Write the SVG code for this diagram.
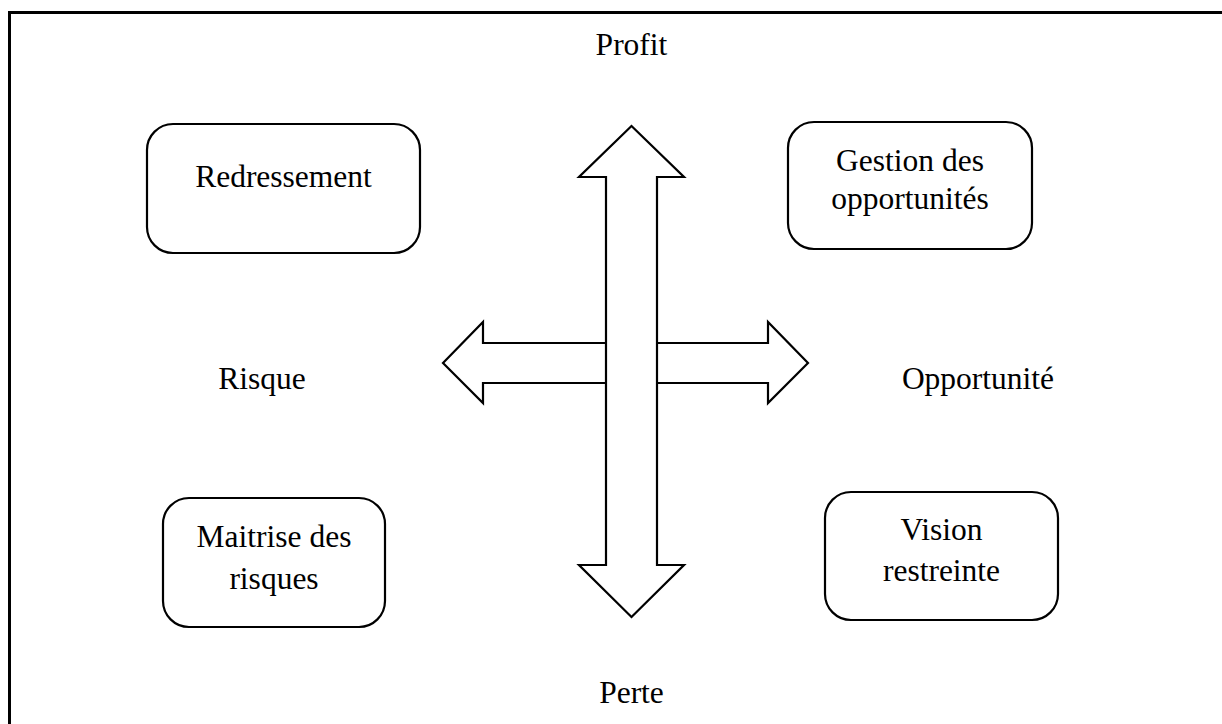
<svg xmlns="http://www.w3.org/2000/svg" width="1222" height="724" viewBox="0 0 1222 724">
<style>
.t{font-family:"Liberation Serif","Times New Roman",serif;font-size:31.5px;fill:#000;text-anchor:middle}
.box{fill:#fff;stroke:#000;stroke-width:2.2}
.arr{fill:#fff;stroke:#000;stroke-width:2.2;stroke-linejoin:miter}
</style>
<rect x="0" y="0" width="1222" height="724" fill="#fff"/>
<path d="M9.5 730 V12.5 H1230" fill="none" stroke="#000" stroke-width="3"/>
<g id="connectors">
<polygon class="arr" points="443,363 483,322 483,343 768,343 768,322 808,363 768,403 768,383 483,383 483,403"/>
<polygon class="arr" points="631.5,126 684,177 657,177 657,565 684,565 631.5,617 579,565 606,565 606,177 579,177"/>
</g>
<g id="profit"><text class="t" x="631.5" y="55">Profit</text></g>
<g id="perte"><text class="t" x="631.5" y="703">Perte</text></g>
<g id="risque"><text class="t" x="262" y="389">Risque</text></g>
<g id="opportunite"><text class="t" x="978" y="389">Opportunité</text></g>
<g id="redressement">
<rect class="box" x="147" y="124" width="273" height="129" rx="26"/>
<text class="t" x="283.5" y="187">Redressement</text>
</g>
<g id="gestion">
<rect class="box" x="788" y="122" width="244" height="127" rx="26"/>
<text class="t" x="910" y="171">Gestion des</text>
<text class="t" x="910" y="209">opportunités</text>
</g>
<g id="maitrise">
<rect class="box" x="163" y="498" width="222" height="129" rx="26"/>
<text class="t" x="274" y="547">Maitrise des</text>
<text class="t" x="274" y="589">risques</text>
</g>
<g id="vision">
<rect class="box" x="825" y="492" width="233" height="128" rx="26"/>
<text class="t" x="941.5" y="540">Vision</text>
<text class="t" x="941.5" y="581">restreinte</text>
</g>
</svg>
